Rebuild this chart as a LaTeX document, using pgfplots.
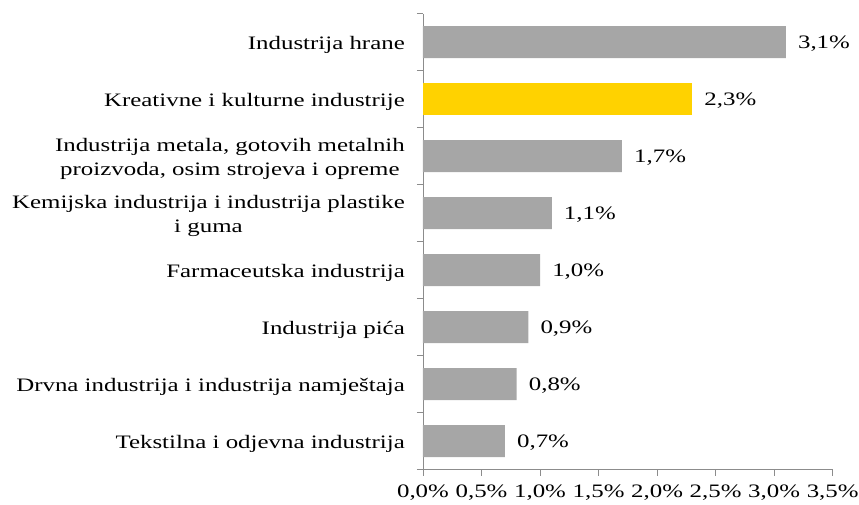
\documentclass[border=0pt]{standalone}
\usepackage{pgfplots}
\pgfplotsset{compat=1.18}
\usepackage{fontspec}
\setmainfont{Liberation Serif}[FakeStretch=1.31]
\definecolor{barg}{HTML}{A6A6A6}
\definecolor{bary}{HTML}{FFD200}
\definecolor{axg}{HTML}{8C8C8C}
\begin{document}
\begin{tikzpicture}[font=\fontsize{19pt}{24pt}\selectfont]
\begin{axis}[name=ax,
  xbar, scale only axis, width=409.7pt, height=456pt,
  xmin=0, xmax=3.5, ymin=-0.5, ymax=7.5,
  axis x line*=bottom, axis y line*=left,
  axis line style={axg, line width=0.8pt},
  tick align=outside, major tick length=6pt,
  tick style={axg, line width=0.8pt},
  xtick={0,0.5,1,1.5,2,2.5,3,3.5},
  xticklabels={{0,0\%},{0,5\%},{1,0\%},{1,5\%},{2,0\%},{2,5\%},{3,0\%},{3,5\%}},
  xticklabel style={inner sep=0pt, anchor=north, yshift=-9pt},
  ytick={-0.5,0.5,1.5,2.5,3.5,4.5,5.5,6.5,7.5},
  yticklabels={},
  extra y ticks={0,1,2,3,4,5,6,7},
  extra y tick labels={{Tekstilna i odjevna industrija},{Drvna industrija i industrija namještaja},{Industrija pića},{Farmaceutska industrija},{Kemijska industrija i industrija plastike\\i guma},{Industrija metala, gotovih metalnih\\proizvoda, osim strojeva i opreme},{Kreativne i kulturne industrije},{Industrija hrane}},
  extra y tick style={major tick length=0pt, tick style={draw=none}, yticklabel style={align=center, inner sep=0pt, anchor=east, xshift=-18pt, yshift=-2.5pt}},
  bar width=32pt, bar shift=0pt,
  point meta=explicit symbolic,
  nodes near coords,
  every node near coord/.append style={anchor=west, inner sep=0pt, xshift=12pt, yshift=-2pt, text=black},
  clip=false,
]
\addplot[fill=barg, draw=none] coordinates {(0.7,0) [0,7\%] (0.8,1) [0,8\%] (0.9,2) [0,9\%] (1.0,3) [1,0\%] (1.1,4) [1,1\%] (1.7,5) [1,7\%] (3.1,7) [3,1\%]};
\addplot[fill=bary, draw=none] coordinates {(2.3,6) [2,3\%]};
\end{axis}
\pgfresetboundingbox
\path[use as bounding box] (ax.south west) ++(-423pt,-34.5pt) rectangle ++(859pt,504pt);
\end{tikzpicture}
\end{document}
